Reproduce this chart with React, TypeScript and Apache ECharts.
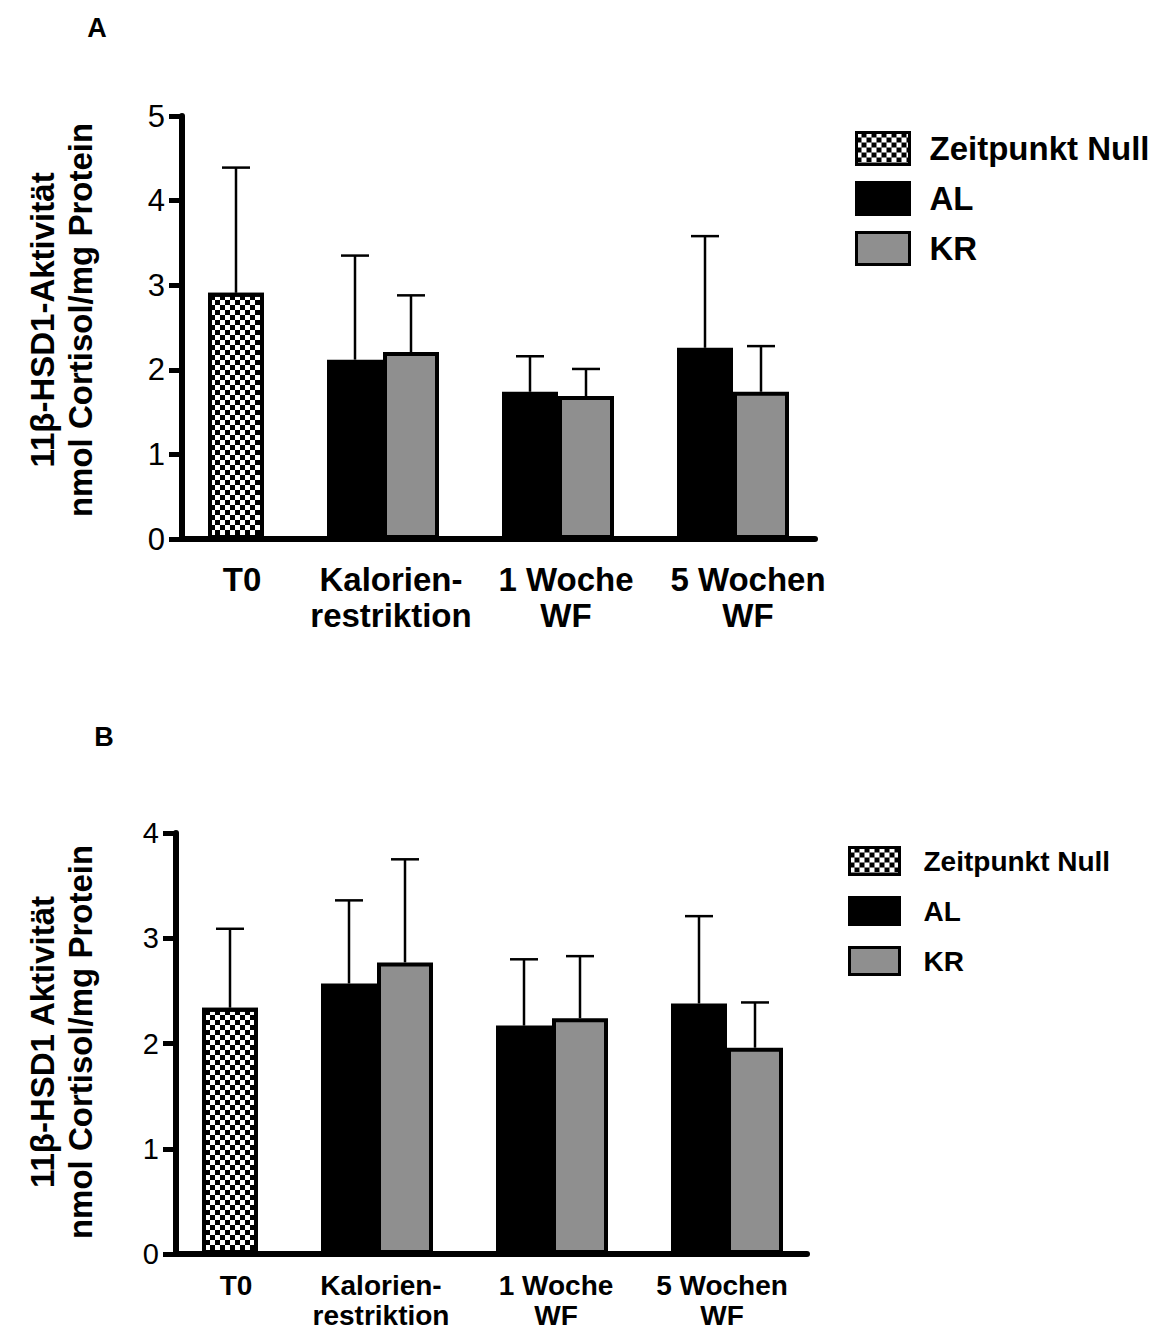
import React, { useEffect, useRef } from "react";
import * as echarts from "echarts";

// ---------- data ----------
const categories = ["T0", "Kalorien-\nrestriktion", "1 Woche\nWF", "5 Wochen\nWF"];
const seriesNames = ["Zeitpunkt Null", "AL", "KR"];

// Panel A
const aNull = [2.91];
const aNullErr = [1.48];
const aAL = [2.12, 1.74, 2.26];
const aALErr = [1.23, 0.42, 1.32];
const aKR = [2.21, 1.69, 1.74];
const aKRErr = [0.67, 0.32, 0.54];
const aYMax = 5;

// Panel B
const bNull = [2.34];
const bNullErr = [0.75];
const bAL = [2.57, 2.17, 2.38];
const bALErr = [0.79, 0.63, 0.83];
const bKR = [2.77, 2.24, 1.96];
const bKRErr = [0.98, 0.59, 0.43];
const bYMax = 4;

// ---------- layout ----------
const FONT = "'Liberation Sans', Arial, sans-serif";
const X_NULL = [54];
const X_AL = [173, 348, 523];
const X_KR = [229, 404, 579];
const GRAY = "#8f8f8f";

const checkerDecal = {
  symbol: "rect",
  symbolSize: 1,
  color: "#000",
  dashArrayX: [
    [5, 5],
    [0, 5, 5, 0],
  ],
  dashArrayY: [5, 0],
  rotation: 0,
};

function panelSeries(
  idx: number,
  nul: number[],
  nulErr: number[],
  al: number[],
  alErr: number[],
  kr: number[],
  krErr: number[],
  labelX: number[],
  labelFont: number,
  labelLineH: number,
  labelOffset: number
) {
  const mk = (name: string, xs: number[], vals: number[], itemStyle: any) => ({
    type: "bar",
    name,
    xAxisIndex: idx,
    yAxisIndex: idx,
    data: xs.map((x, i) => [x, vals[i]]),
    barWidth: 56,
    barGap: "-100%",
    itemStyle: { borderColor: "#000", borderWidth: 4, ...itemStyle },
    z: 2,
  });
  const errData = [
    ...X_NULL.map((x, i) => [x, nul[i], nulErr[i]]),
    ...X_AL.map((x, i) => [x, al[i], alErr[i]]),
    ...X_KR.map((x, i) => [x, kr[i], krErr[i]]),
  ];
  return [
    mk(seriesNames[0], X_NULL, nul, { color: "#fff", decal: checkerDecal }),
    mk(seriesNames[1], X_AL, al, { color: "#000" }),
    mk(seriesNames[2], X_KR, kr, { color: GRAY }),
    {
      type: "custom",
      name: "err" + idx,
      xAxisIndex: idx,
      yAxisIndex: idx,
      data: errData,
      z: 3,
      clip: false,
      renderItem: (params: any, api: any) => {
        const x = api.value(0);
        const y = api.value(1);
        const e = api.value(2);
        const p0 = api.coord([x, y]);
        const p1 = api.coord([x, y + e]);
        const st = { stroke: "#000", lineWidth: 2.5 };
        return {
          type: "group",
          children: [
            { type: "line", shape: { x1: p0[0], y1: p0[1], x2: p1[0], y2: p1[1] }, style: st },
            { type: "line", shape: { x1: p1[0] - 14, y1: p1[1], x2: p1[0] + 14, y2: p1[1] }, style: st },
          ],
        };
      },
    },
    {
      type: "custom",
      name: "lbl" + idx,
      xAxisIndex: idx,
      yAxisIndex: idx,
      data: labelX.map((x) => [x, 0]),
      z: 3,
      clip: false,
      silent: true,
      renderItem: (params: any, api: any) => {
        const p = api.coord([api.value(0), 0]);
        return {
          type: "text",
          x: p[0],
          y: p[1] + labelOffset,
          style: {
            text: categories[params.dataIndex],
            textAlign: "center",
            textVerticalAlign: "top",
            fontSize: labelFont,
            fontWeight: "bold",
            fontFamily: FONT,
            lineHeight: labelLineH,
            fill: "#000",
          },
        };
      },
    },
  ];
}

function yAxisCfg(idx: number, max: number, fontSize: number) {
  return {
    type: "value",
    gridIndex: idx,
    min: 0,
    max,
    interval: 1,
    axisLine: { show: true, lineStyle: { color: "#000", width: 6 } },
    axisTick: { show: true, length: 13, lineStyle: { color: "#000", width: 5 } },
    axisLabel: { color: "#000", fontSize, fontFamily: FONT, margin: 17 },
    splitLine: { show: false },
  };
}

function xAxisCfg(idx: number, max: number) {
  return {
    type: "value",
    gridIndex: idx,
    min: 0,
    max,
    axisLine: { show: true, onZero: true, lineStyle: { color: "#000", width: 6 } },
    axisTick: { show: false },
    axisLabel: { show: false },
    splitLine: { show: false },
  };
}

function legendCfg(left: number, top: number, w: number, h: number, gap: number, fs: number, pad: number) {
  return {
    orient: "vertical",
    left,
    top,
    itemWidth: w,
    itemHeight: h,
    itemGap: gap,
    icon: "rect",
    selectedMode: false,
    data: seriesNames,
    itemStyle: { borderColor: "#000", borderWidth: 3 },
    textStyle: { fontSize: fs, fontWeight: "bold", color: "#000", fontFamily: FONT, padding: [0, 0, 0, pad] },
  };
}

function titleTexts(x1: number, x2: number, yc: number, l1: string, l2: string, fs: number) {
  const base = {
    textAlign: "center",
    textVerticalAlign: "middle",
    fontSize: fs,
    fontWeight: "bold",
    fontFamily: FONT,
    fill: "#000",
  };
  return [
    { type: "text", x: x1, y: yc, rotation: Math.PI / 2, style: { ...base, text: l1 } },
    { type: "text", x: x2, y: yc, rotation: Math.PI / 2, style: { ...base, text: l2 } },
  ];
}

export default function App() {
  const ref = useRef<HTMLDivElement>(null);
  useEffect(() => {
    if (!ref.current) return;
    const chart = echarts.init(ref.current, undefined, { renderer: "svg" });
    const option: any = {
      animation: false,
      backgroundColor: "#fff",
      grid: [
        { left: 182, top: 116, width: 633, height: 423 },
        { left: 176, top: 833, width: 631, height: 421 },
      ],
      xAxis: [xAxisCfg(0, 633), xAxisCfg(1, 631)],
      yAxis: [yAxisCfg(0, aYMax, 31), yAxisCfg(1, bYMax, 29)],
      legend: [
        legendCfg(850, 126, 53, 32, 15, 33, 15),
        legendCfg(843, 841, 50, 27, 20, 28, 19),
      ],
      series: [
        ...panelSeries(0, aNull, aNullErr, aAL, aALErr, aKR, aKRErr, [60, 209, 384, 566], 33, 36, 22),
        ...panelSeries(1, bNull, bNullErr, bAL, bALErr, bKR, bKRErr, [60, 205, 380, 546], 28, 30, 16),
      ],
      graphic: [
        {
          type: "text",
          x: 97,
          y: 28,
          style: { text: "A", fontSize: 27, fontWeight: "bold", fontFamily: FONT, fill: "#000", textAlign: "center", textVerticalAlign: "middle" },
        },
        {
          type: "text",
          x: 104,
          y: 737,
          style: { text: "B", fontSize: 27, fontWeight: "bold", fontFamily: FONT, fill: "#000", textAlign: "center", textVerticalAlign: "middle" },
        },
        ...titleTexts(42, 80, 320, "11β-HSD1-Aktivität", "nmol Cortisol/mg Protein", 33),
        ...titleTexts(42, 80, 1042, "11β-HSD1 Aktivität", "nmol Cortisol/mg Protein", 33),
      ],
    };
    chart.setOption(option);
    return () => chart.dispose();
  }, []);
  return (
    <div
      ref={ref}
      style={{ position: "absolute", left: 0, top: 0, width: 1158, height: 1331, background: "#fff" }}
    />
  );
}
